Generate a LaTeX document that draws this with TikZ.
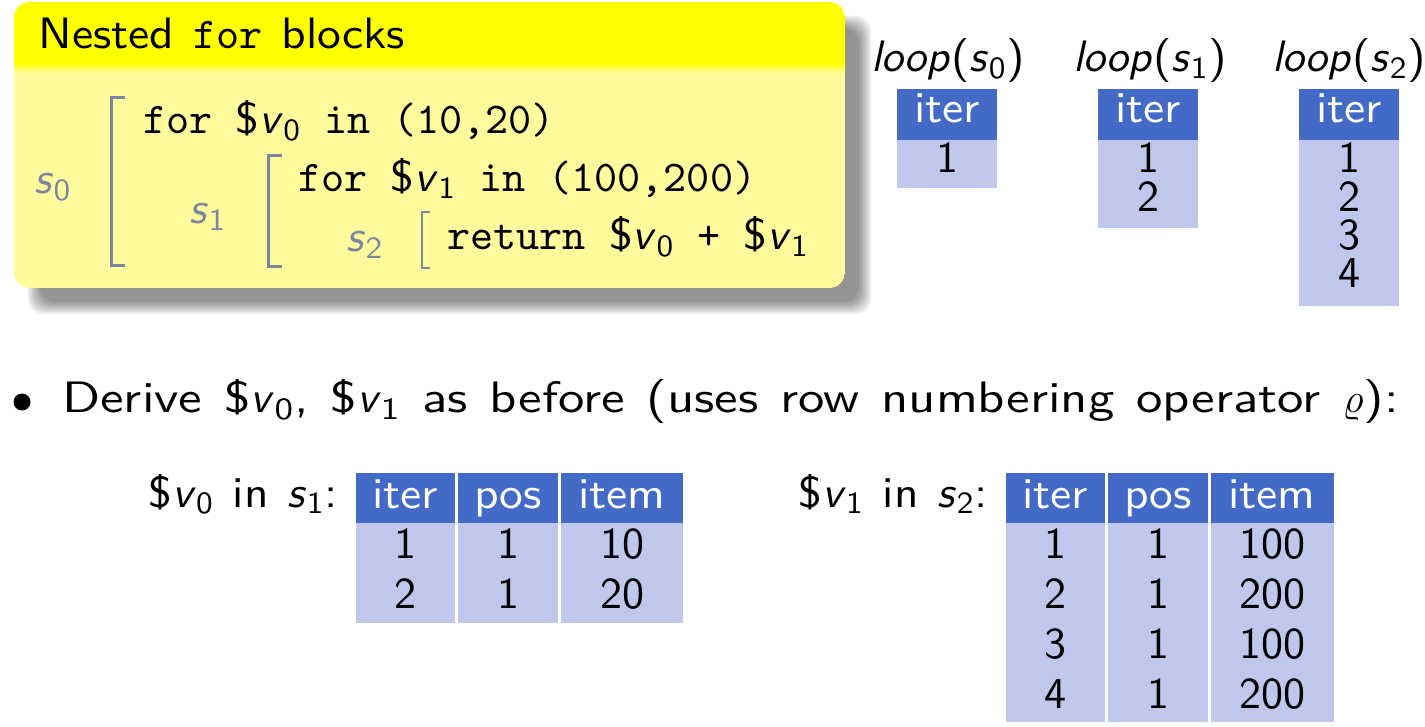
\documentclass[tikz,border=0pt]{standalone}
\usepackage{fontspec}
\setsansfont{lmsans10-regular.otf}[ItalicFont=lmsans10-oblique.otf, BoldFont=lmsans10-bold.otf, UprightFeatures={FakeStretch=1.08}, WordSpace=1.2]
\setmonofont{lmmono10-regular.otf}
\newfontfamily\widesf{lmsans10-regular.otf}[ItalicFont=lmsans10-oblique.otf, UprightFeatures={FakeStretch=1.2}, WordSpace=1.25]
\newfontfamily\numfont{lmsans10-regular.otf}
\renewcommand{\familydefault}{\sfdefault}
\usetikzlibrary{calc}
\definecolor{titleyellow}{RGB}{255,255,0}
\definecolor{bodyyellow}{RGB}{255,251,156}
\definecolor{hdrblue}{RGB}{66,106,198}
\definecolor{cellblue}{RGB}{191,199,236}
\definecolor{brkgray}{RGB}{122,134,162}
\newcommand{\subv}[2]{\textit{#1}\textsubscript{#2}}
\tikzset{
	txt/.style={inner sep=0pt, font=\fontsize{22}{26}\selectfont},
	hdrcell/.style={fill=hdrblue},
	bodycell/.style={fill=cellblue},
	hdrtxt/.style={txt, anchor=base, text=white},
	celltxt/.style={inner sep=0pt, anchor=base, font=\fontsize{22}{26}\numfont},
	brk/.style={draw=brkgray, line width=1.5pt},
	brklabel/.style={txt, text=brkgray},
}
\begin{document}
\begin{tikzpicture}[x=0.5pt, y=-0.5pt]
			%%%%% START %%%%%
			\useasboundingbox (0,0) rectangle (1425,727);
			
			% block shadow
			\foreach \d in {0,2,...,12}
				\fill[black, opacity=0.075, rounded corners=8pt] (28+\d, 16+\d) rectangle (871-\d, 314-\d);
			
			% block
			\begin{scope}
				\clip[rounded corners=8pt] (14,2) rectangle (845,288);
				\fill[bodyyellow] (14,2) rectangle (845,288);
				\fill[titleyellow] (14,2) rectangle (845,63);
				\shade[top color=titleyellow, bottom color=bodyyellow] (14,63) rectangle (845,73);
			\end{scope}
			\node[txt, anchor=base west] (title) at (38,49) {Nested \texttt{for} blocks};
			
			\node[txt, anchor=base west] (linezero) at (143,134) {\texttt{for }\$\subv{v}{0}\texttt{ in (10,20)}};
			\node[txt, anchor=base west] (lineone) at (298,192) {\texttt{for }\$\subv{v}{1}\texttt{ in (100,200)}};
			\node[txt, anchor=base west] (linetwo) at (447,250) {\texttt{return }\$\subv{v}{0}\texttt{ + }\$\subv{v}{1}};
			
			\draw[brk] (125,98) -- (111,98) -- (111,266) -- (125,266);
			\draw[brk] (282,156) -- (268,156) -- (268,267) -- (282,267);
			\draw[brk, line width=1pt] (430,212) -- (422,212) -- (422,268) -- (430,268);
			\node[brklabel] (szero) at (53,187) {\subv{s}{0}};
			\node[brklabel] (sone) at (208,217) {\subv{s}{1}};
			\node[brklabel] (stwo) at (365,245) {\subv{s}{2}};
			
			% loop tables
			\node[txt, anchor=base] (loopzero) at (948,72) {\textit{loop}(\subv{s}{0})};
			\fill[hdrcell] (897,89) rectangle (997,140);
			\fill[bodycell] (897,140) rectangle (997,188);
			\node[hdrtxt] (iterzero) at (947,123) {iter};
			\node[celltxt] (zeroa) at (947,173) {1};
			
			\node[txt, anchor=base] (loopone) at (1150,72) {\textit{loop}(\subv{s}{1})};
			\fill[hdrcell] (1098,89) rectangle (1198,140);
			\fill[bodycell] (1098,140) rectangle (1198,228);
			\node[hdrtxt] (iterone) at (1148,123) {iter};
			\node[celltxt] (onea) at (1148,173) {1};
			\node[celltxt] (oneb) at (1148,212) {2};
			
			\node[txt, anchor=base] (looptwo) at (1349,72) {\textit{loop}(\subv{s}{2})};
			\fill[hdrcell] (1299,89) rectangle (1399,140);
			\fill[bodycell] (1299,140) rectangle (1399,306);
			\node[hdrtxt] (itertwo) at (1349,123) {iter};
			\node[celltxt] (twoa) at (1349,173) {1};
			\node[celltxt] (twob) at (1349,212) {2};
			\node[celltxt] (twoc) at (1349,250) {3};
			\node[celltxt] (twod) at (1349,288) {4};
			
			% bullet
			\node[circle, fill=black, inner sep=0pt, minimum size=8.5pt] (bullet) at (22,402) {};
			\node[inner sep=0pt, anchor=base west, font=\fontsize{22}{26}\widesf] (derive) at (62,413) {Derive \$\subv{v}{0}, \$\subv{v}{1} as before (uses row numbering operator $\varrho$):};
			
			% v0 in s1
			\node[txt, anchor=base east] (vzero) at (338,507) {\$\subv{v}{0} in \subv{s}{1}:};
			\fill[hdrcell] (356,473) rectangle (455,523);
			\fill[hdrcell] (458,473) rectangle (558,523);
			\fill[hdrcell] (561,473) rectangle (683,523);
			\fill[bodycell] (356,523) rectangle (455,623);
			\fill[bodycell] (458,523) rectangle (558,623);
			\fill[bodycell] (561,523) rectangle (683,623);
			\node[hdrtxt] (vziter) at (405,508) {iter};
			\node[hdrtxt] (vzpos) at (508,508) {pos};
			\node[hdrtxt] (vzitem) at (622,508) {item};
			\node[celltxt] (vza) at (405,558) {1};
			\node[celltxt] (vzb) at (508,558) {1};
			\node[celltxt] (vzc) at (622,558) {10};
			\node[celltxt] (vzd) at (405,608) {2};
			\node[celltxt] (vze) at (508,608) {1};
			\node[celltxt] (vzf) at (622,608) {20};
			
			% v1 in s2
			\node[txt, anchor=base east] (vone) at (988,507) {\$\subv{v}{1} in \subv{s}{2}:};
			\fill[hdrcell] (1006,473) rectangle (1105,523);
			\fill[hdrcell] (1108,473) rectangle (1208,523);
			\fill[hdrcell] (1211,473) rectangle (1334,523);
			\fill[bodycell] (1006,523) rectangle (1105,722);
			\fill[bodycell] (1108,523) rectangle (1208,722);
			\fill[bodycell] (1211,523) rectangle (1334,722);
			\node[hdrtxt] (voiter) at (1055,508) {iter};
			\node[hdrtxt] (vopos) at (1158,508) {pos};
			\node[hdrtxt] (voitem) at (1272,508) {item};
			\node[celltxt] (voa) at (1055,558) {1};
			\node[celltxt] (vob) at (1158,558) {1};
			\node[celltxt] (voc) at (1272,558) {100};
			\node[celltxt] (vod) at (1055,608) {2};
			\node[celltxt] (voe) at (1158,608) {1};
			\node[celltxt] (vof) at (1272,608) {200};
			\node[celltxt] (vog) at (1055,658) {3};
			\node[celltxt] (voh) at (1158,658) {1};
			\node[celltxt] (voi) at (1272,658) {100};
			\node[celltxt] (voj) at (1055,708) {4};
			\node[celltxt] (vok) at (1158,708) {1};
			\node[celltxt] (vol) at (1272,708) {200};
			
			%%%%% END %%%%%
\end{tikzpicture}
\end{document}
